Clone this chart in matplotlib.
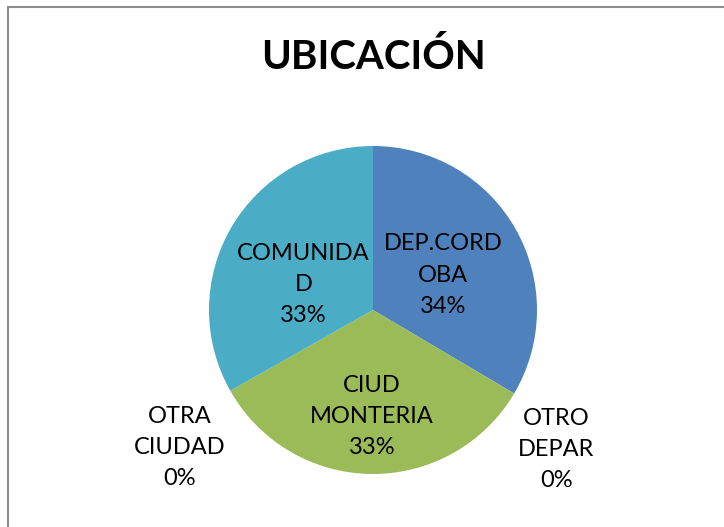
import numpy as np
import matplotlib.pyplot as plt
from matplotlib.patches import Rectangle

# data
categories = ["DEP.CORDOBA", "OTRO DEPAR", "CIUD MONTERIA", "OTRA CIUDAD", "COMUNIDAD"]
label_lines = ["DEP.CORD\nOBA", "OTRO\nDEPAR", "CIUD\nMONTERIA", "OTRA\nCIUDAD", "COMUNIDA\nD"]
values = [33.5, 0.0, 33.3, 0.0, 33.2]
colors = ["#4F81BD", "#C0504D", "#9BBB59", "#8064A2", "#4BACC6"]

plt.rcParams["font.family"] = ["Lato", "DejaVu Sans"]

W, H = 724, 527
fig = plt.figure(figsize=(W / 100, H / 100), dpi=100)

# chart frame (cut off at right and bottom, like the screenshot)
fig.patches.append(Rectangle((8 / W, -0.05), 1.1, (H - 7) / H + 0.05,
                             transform=fig.transFigure, fill=False,
                             edgecolor="#8c8c8c", linewidth=1.5))

fig.text(374 / W, 1 - 57 / H, "UBICACIÓN", ha="center", va="center",
         fontsize=29, fontweight="bold", color="black")

# pie: center (373, 310) px, radius 164 px
cx, cy, r = 373, 310, 164
ax = fig.add_axes([(cx - r) / W, (H - cy - r) / H, 2 * r / W, 2 * r / H])
wedges, _ = ax.pie(values, colors=colors, startangle=90, counterclock=False,
                   radius=1, wedgeprops=dict(linewidth=0))
ax.set_xlim(-1, 1)
ax.set_ylim(-1, 1)
ax.set_aspect("equal")
ax.axis("off")

# label distance from center and vertical nudge (in radius units)
label_dist = [0.49, 1.30, 0.65, 1.355, 0.49]
label_dy = [-0.03, -0.19, 0.0, -0.17, -0.09]

total = sum(values)
for w, name, val, d, dy in zip(wedges, label_lines, values, label_dist, label_dy):
    mid = np.deg2rad((w.theta1 + w.theta2) / 2)
    x = d * np.cos(mid)
    y = d * np.sin(mid) + dy
    pct = 100 * val / total
    ax.text(x, y, f"{name}\n{pct:.0f}%", ha="center", va="center",
            fontsize=17, linespacing=1.6, color="black", clip_on=False)

fig.savefig("out.png", dpi=100)
